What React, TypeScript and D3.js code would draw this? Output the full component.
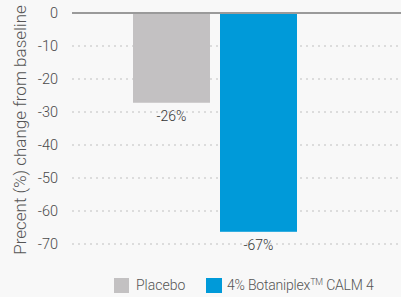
import React from "react";
import * as d3 from "d3";

const categories = ["Placebo", "4% Botaniplex™ CALM 4"];
const values = [-27.2, -66.3];
const valueLabels = ["-26%", "-67%"];
const colors = ["#c3c1c2", "#009ad9"];
const yTicks = [0, -10, -20, -30, -40, -50, -60, -70];

const W = 401;
const H = 297;

export default function App() {
  const y = d3.scaleLinear().domain([0, -70]).range([13, 244]);
  const x = d3
    .scaleBand<string>()
    .domain(categories)
    .range([133, 297])
    .paddingInner(10 / 87)
    .paddingOuter(0);
  const font = "Roboto, 'DejaVu Sans', sans-serif";
  const textColor = "#4a4a4a";

  return (
    <svg
      width={W}
      height={H}
      style={{ position: "absolute", left: 0, top: 0, display: "block" }}
      fontFamily={font}
    >
      <rect x={0} y={0} width={W} height={H} fill="#f8f8f8" />
      {yTicks.map((t) =>
        t === 0 ? null : (
          <line
            key={"g" + t}
            x1={72}
            x2={W}
            y1={y(t)}
            y2={y(t)}
            stroke="#dcdcdc"
            strokeWidth={2}
            strokeDasharray="2 4"
          />
        )
      )}
      {yTicks.map((t) => (
        <text
          key={"t" + t}
          x={58}
          y={y(t)}
          dy="0.35em"
          textAnchor="end"
          fontSize={14.5}
          fill={textColor}
          fontWeight={300}
        >
          {t}
        </text>
      ))}
      {categories.map((c, i) => (
        <rect
          key={c}
          x={x(c)}
          y={y(0)}
          width={x.bandwidth()}
          height={y(values[i]) - y(0)}
          fill={colors[i]}
        />
      ))}
      <line x1={72} x2={W} y1={y(0)} y2={y(0)} stroke="#9a9a9a" strokeWidth={2} />
      {categories.map((c, i) => (
        <text
          key={"l" + c}
          x={(x(c) as number) + x.bandwidth() / 2}
          y={y(values[i]) + 13}
          dy="0.35em"
          textAnchor="middle"
          fontSize={14}
          fill="#333"
          fontWeight={300}
        >
          {valueLabels[i]}
        </text>
      ))}
      <text
        transform={`translate(20,${130}) rotate(-90)`}
        textAnchor="middle"
        dy="0.35em"
        fontSize={17}
        fill="#555"
        fontWeight={300}
      >
        Precent (%) change from baseline
      </text>
      <g>
        <rect x={114} y={278} width={15} height={15} fill={colors[0]} />
        <text x={136} y={285.5} dy="0.35em" fontSize={14} fill="#555" fontWeight={300}>
          Placebo
        </text>
        <rect x={206} y={278} width={16} height={15} fill={colors[1]} />
        <text x={227} y={285.5} dy="0.35em" fontSize={14} fill="#555" fontWeight={300} letterSpacing={-0.2}>
          4% Botaniplex
          <tspan fontSize={9} dy="-5">TM</tspan>
          <tspan dy="5"> CALM 4</tspan>
        </text>
      </g>
    </svg>
  );
}
